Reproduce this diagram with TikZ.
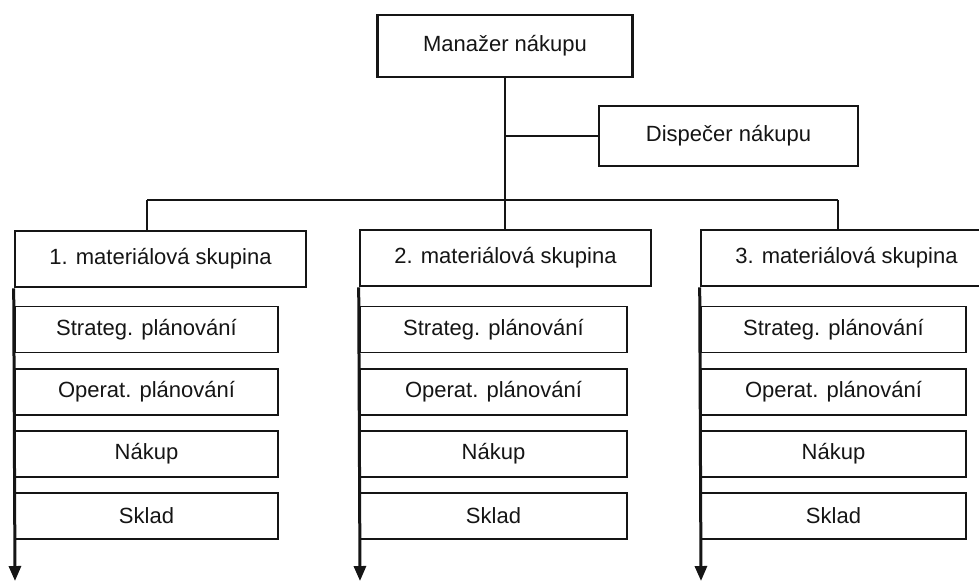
\documentclass[tikz,border=0pt]{standalone}
\usepackage{fontspec}
\setmainfont{Liberation Sans}
\usetikzlibrary{arrows.meta}
\definecolor{ink}{HTML}{151515}
\begin{document}
\begin{tikzpicture}[x=1pt,y=-1pt,
  every node/.style={font=\fontsize{22}{26}\selectfont, text=ink},
  headbox/.style={draw=ink, line width=2.6pt, rectangle, inner sep=0pt, fill=white},
  groupbox/.style={draw=ink, line width=2.6pt, rectangle, inner sep=0pt,
    minimum width=291pt, minimum height=56pt, fill=white},
  taskbox/.style={draw=ink, line width=1.9pt, rectangle, inner sep=0pt,
    minimum height=46pt, fill=white},
  link/.style={draw=ink, line width=2.6pt},
  flow/.style={draw=ink, line width=3pt, -{Triangle[length=15pt,width=12pt]}}]
\clip (0,0) rectangle (979,582);
\fill[white] (0,0) rectangle (979,582);

% top level
\node[headbox, minimum width=255pt, minimum height=62pt] (mgr) at (505,46) {Manažer nákupu};
\node[headbox, minimum width=259pt, minimum height=60pt] (disp) at (728.5,136) {Dispečer nákupu};

% material groups
\node[groupbox] (g1) at (160.5,259) {1. materiálová skupina};
\node[groupbox] (g2) at (505.5,258) {2. materiálová skupina};
\node[groupbox] (g3) at (846.5,258) {3. materiálová skupina};

% bus drop points
\coordinate (d1) at (147,200);
\coordinate (d2) at (505,200);
\coordinate (d3) at (838,200);

% manager to bus, dispatcher branch
\draw[link] (mgr.south) -- (d2);
\draw[link] (mgr.south |- disp.west) -- (disp.west);
\draw[link] (d1) -- (d3);
\draw[link] (d1) -- (d1 |- g1.north);
\draw[link] (d2) -- (d2 |- g2.north);
\draw[link] (d3) -- (d3 |- g3.north);

% task boxes of each group
\foreach \g/\l/\r in {1/15/278, 2/360/627, 3/701/966}{
  \pgfmathsetmacro{\w}{\r-\l}
  \pgfmathsetmacro{\c}{(\r+\l)/2}
  \node[taskbox, minimum width=\w pt] (s\g) at (\c,329.5) {Strateg. plánování};
  \node[taskbox, minimum width=\w pt] (o\g) at (\c,392) {Operat. plánování};
  \node[taskbox, minimum width=\w pt] (n\g) at (\c,454) {Nákup};
  \node[taskbox, minimum width=\w pt] (k\g) at (\c,516) {Sklad};
  \coordinate (e\g) at (\l,581);
}

% downward flows along each group
\draw[flow] (g1.south west) -- (e1);
\draw[flow] (g2.south west) -- (e2);
\draw[flow] (g3.south west) -- (e3);
\end{tikzpicture}
\end{document}
